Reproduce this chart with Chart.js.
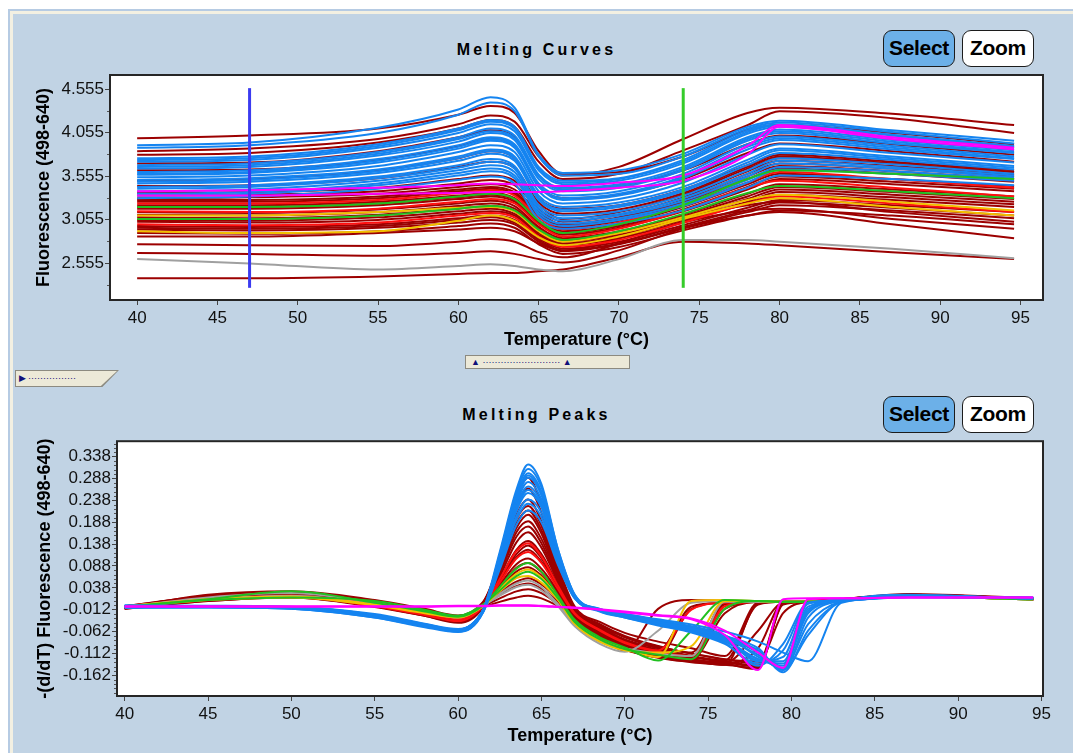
<!DOCTYPE html>
<html>
<head>
<meta charset="utf-8">
<script src="https://cdn.jsdelivr.net/npm/chart.js@4.4.1/dist/chart.umd.min.js"></script>
<style>
  body { margin: 0; width: 1073px; height: 753px; overflow: hidden; position: relative; background: #ffffff; font-family: "Liberation Sans", Arial, sans-serif; }
  #panel { position: absolute; left: 8px; top: 9px; width: 1065px; height: 744px; background: #c1d3e4; border-top: 2px solid #b6cbe3; border-left: 2px solid #b6cbe3; box-sizing: border-box; box-shadow: inset 3px 3px 0 #f3f0e2; }
  canvas { position: absolute; left: 0; }
  .title { position: absolute; left: 0; width: 1073px; text-align: center; font-weight: bold; font-size: 16px; letter-spacing: 3.2px; color: #000; }
  .btn { position: absolute; width: 72px; height: 37px; box-sizing: border-box; border: 1.5px solid #1c1c1c; border-radius: 9px; font-weight: bold; font-size: 21px; line-height: 34px; text-align: center; color: #000; letter-spacing: -0.3px; }
  .sel { background: #6cb0e8; }
  .zoom { background: #ffffff; }
  #slider { position: absolute; left: 465px; top: 355px; width: 165px; height: 14px; box-sizing: border-box; background: #ece9d8; border: 1px solid #8c8a80; font-size: 9px; color: #10107a; line-height: 12px; }
  #tab { position: absolute; left: 15px; top: 370px; width: 104px; height: 17px; background: #8c8a80; clip-path: polygon(0 0, 100% 0, 84% 100%, 0 100%); }
  #tab div { position: absolute; left: 1px; top: 1px; width: 101px; height: 15px; background: #ece9d8; clip-path: polygon(0 0, 100% 0, 84% 100%, 0 100%); font-size: 9px; color: #10107a; line-height: 15px; }
</style>
</head>
<body>
<div id="panel"></div>
<canvas id="curves" width="1073" height="300" style="top:60px"></canvas>
<canvas id="peaks" width="1073" height="323" style="top:430px"></canvas>
<div class="title" style="top:41px">Melting Curves</div>
<div class="title" style="top:406px">Melting Peaks</div>
<div class="btn sel" style="left:883px;top:30px">Select</div>
<div class="btn zoom" style="left:962px;top:30px">Zoom</div>
<div class="btn sel" style="left:883px;top:396px">Select</div>
<div class="btn zoom" style="left:962px;top:396px">Zoom</div>
<div id="slider">&nbsp;&nbsp;▲&nbsp;··························&nbsp;▲</div>
<div id="tab"><div>&nbsp;▶&nbsp;················</div></div>
<script>
// 温度軸（共通目盛り）
const tempTicks = [40, 45, 50, 55, 60, 65, 70, 75, 80, 85, 90, 95];
const meltTicksY = [2.555, 3.055, 3.555, 4.055, 4.555];
const meltMinorY = [2.305, 2.805, 3.305, 3.805, 4.305];
const peakTicksY = [-0.162, -0.112, -0.062, -0.012, 0.038, 0.088, 0.138, 0.188, 0.238, 0.288, 0.338];

// Melting Curves: 読み取り温度点
const meltTemps = [40, 47, 55, 60, 62, 63.5, 65, 66.5, 70, 74, 78, 80, 87, 94.6];

const meltBlue = [
    [3.91, 3.94, 4.11, 4.32, 4.46, 4.34, 3.80, 3.59, 3.62, 3.81, 4.12, 4.19, 4.08, 3.96],
    [3.88, 3.91, 4.05, 4.26, 4.40, 4.30, 3.78, 3.56, 3.58, 3.78, 4.10, 4.17, 4.06, 3.93],
    [3.76, 3.78, 3.92, 4.10, 4.20, 4.12, 3.66, 3.50, 3.53, 3.74, 4.08, 4.15, 4.03, 3.90],
    [3.74, 3.76, 3.90, 4.08, 4.18, 4.10, 3.64, 3.48, 3.52, 3.72, 4.06, 4.14, 4.02, 3.89],
    [3.72, 3.74, 3.88, 4.05, 4.15, 4.07, 3.62, 3.46, 3.50, 3.70, 4.04, 4.12, 4.00, 3.88],
    [3.68, 3.70, 3.83, 4.00, 4.10, 4.02, 3.57, 3.42, 3.46, 3.66, 4.00, 4.09, 3.97, 3.85],
    [3.66, 3.68, 3.81, 3.98, 4.07, 3.99, 3.55, 3.40, 3.44, 3.64, 3.98, 4.07, 3.95, 3.83],
    [3.64, 3.66, 3.79, 3.95, 4.05, 3.97, 3.52, 3.38, 3.42, 3.62, 3.96, 4.05, 3.93, 3.82],
    [3.60, 3.62, 3.75, 3.91, 4.00, 3.92, 3.47, 3.33, 3.38, 3.58, 3.92, 4.01, 3.90, 3.78],
    [3.58, 3.60, 3.73, 3.89, 3.98, 3.90, 3.45, 3.30, 3.35, 3.55, 3.89, 3.99, 3.88, 3.76],
    [3.57, 3.59, 3.71, 3.87, 3.96, 3.88, 3.43, 3.28, 3.33, 3.53, 3.86, 3.97, 3.86, 3.75],
    [3.54, 3.56, 3.67, 3.83, 3.91, 3.83, 3.38, 3.24, 3.29, 3.48, 3.80, 3.92, 3.82, 3.71],
    [3.51, 3.53, 3.63, 3.78, 3.86, 3.78, 3.33, 3.20, 3.25, 3.43, 3.74, 3.87, 3.78, 3.67],
    [3.49, 3.51, 3.61, 3.76, 3.84, 3.76, 3.30, 3.17, 3.22, 3.40, 3.71, 3.85, 3.76, 3.65],
    [3.47, 3.49, 3.59, 3.73, 3.81, 3.73, 3.28, 3.15, 3.20, 3.38, 3.68, 3.82, 3.74, 3.63],
    [3.43, 3.45, 3.55, 3.68, 3.75, 3.67, 3.22, 3.10, 3.15, 3.33, 3.62, 3.76, 3.69, 3.58],
    [3.41, 3.43, 3.53, 3.65, 3.72, 3.64, 3.19, 3.07, 3.12, 3.30, 3.58, 3.73, 3.66, 3.56],
    [3.38, 3.40, 3.50, 3.62, 3.68, 3.60, 3.16, 3.04, 3.10, 3.27, 3.55, 3.70, 3.64, 3.54],
    [3.35, 3.37, 3.47, 3.59, 3.64, 3.56, 3.13, 3.01, 3.07, 3.24, 3.51, 3.66, 3.61, 3.52],
    [3.33, 3.35, 3.45, 3.56, 3.61, 3.53, 3.10, 2.98, 3.05, 3.21, 3.48, 3.63, 3.58, 3.50],
    [3.30, 3.32, 3.41, 3.51, 3.55, 3.47, 3.05, 2.95, 3.01, 3.16, 3.42, 3.56, 3.52, 3.45]
];

const meltDarkRed = [
    [3.99, 4.02, 4.10, 4.26, 4.36, 4.28, 3.84, 3.58, 3.60, 3.78, 4.08, 4.14, 4.05, 3.92],
    [3.84, 3.87, 3.98, 4.15, 4.25, 4.18, 3.78, 3.56, 3.66, 3.98, 4.28, 4.34, 4.27, 4.14],
    [3.80, 3.82, 3.94, 4.10, 4.20, 4.12, 3.72, 3.52, 3.58, 3.85, 4.14, 4.30, 4.22, 4.05],
    [3.70, 3.71, 3.84, 4.00, 4.08, 4.00, 3.56, 3.40, 3.44, 3.62, 3.92, 4.02, 3.92, 3.80],
    [3.62, 3.63, 3.74, 3.90, 3.98, 3.90, 3.44, 3.30, 3.34, 3.52, 3.82, 3.93, 3.84, 3.72],
    [3.50, 3.52, 3.62, 3.76, 3.84, 3.76, 3.30, 3.18, 3.22, 3.40, 3.68, 3.80, 3.72, 3.62],
    [3.44, 3.45, 3.53, 3.66, 3.72, 3.65, 3.25, 3.12, 3.17, 3.36, 3.66, 3.78, 3.70, 3.60],
    [3.36, 3.37, 3.42, 3.52, 3.56, 3.50, 3.22, 3.06, 3.14, 3.34, 3.64, 3.76, 3.70, 3.60],
    [3.33, 3.34, 3.38, 3.47, 3.51, 3.45, 3.18, 3.03, 3.11, 3.31, 3.61, 3.73, 3.67, 3.57],
    [3.30, 3.31, 3.35, 3.43, 3.46, 3.40, 3.14, 3.00, 3.08, 3.28, 3.58, 3.70, 3.64, 3.55],
    [3.28, 3.28, 3.32, 3.40, 3.43, 3.37, 3.12, 2.98, 3.06, 3.26, 3.55, 3.67, 3.61, 3.52],
    [3.26, 3.26, 3.30, 3.38, 3.41, 3.35, 3.10, 2.96, 3.04, 3.24, 3.52, 3.64, 3.58, 3.49],
    [3.22, 3.22, 3.26, 3.33, 3.36, 3.30, 3.05, 2.92, 3.00, 3.20, 3.46, 3.58, 3.52, 3.44],
    [3.20, 3.20, 3.24, 3.31, 3.34, 3.28, 3.03, 2.90, 2.98, 3.17, 3.43, 3.55, 3.49, 3.41],
    [3.18, 3.18, 3.22, 3.29, 3.32, 3.26, 3.01, 2.88, 2.96, 3.15, 3.40, 3.52, 3.46, 3.38],
    [3.14, 3.13, 3.17, 3.24, 3.27, 3.21, 2.97, 2.84, 2.92, 3.11, 3.35, 3.46, 3.40, 3.32],
    [3.11, 3.10, 3.14, 3.21, 3.24, 3.18, 2.95, 2.82, 2.90, 3.09, 3.32, 3.43, 3.37, 3.29],
    [3.08, 3.07, 3.11, 3.18, 3.21, 3.15, 2.92, 2.80, 2.88, 3.07, 3.29, 3.40, 3.34, 3.26],
    [3.05, 3.04, 3.08, 3.15, 3.18, 3.12, 2.90, 2.78, 2.86, 3.05, 3.26, 3.37, 3.31, 3.23],
    [3.03, 3.02, 3.05, 3.12, 3.15, 3.10, 2.88, 2.76, 2.84, 3.03, 3.24, 3.34, 3.28, 3.20],
    [2.98, 2.97, 3.00, 3.07, 3.10, 3.05, 2.84, 2.72, 2.80, 2.99, 3.19, 3.28, 3.22, 3.14],
    [2.96, 2.95, 2.98, 3.05, 3.08, 3.02, 2.82, 2.70, 2.78, 2.97, 3.16, 3.25, 3.19, 3.10],
    [2.94, 2.93, 2.96, 3.02, 3.05, 3.00, 2.80, 2.69, 2.77, 2.96, 3.14, 3.22, 3.16, 3.07],
    [2.90, 2.89, 2.92, 2.98, 3.01, 2.96, 2.77, 2.66, 2.74, 2.93, 3.10, 3.16, 3.10, 3.00],
    [2.86, 2.86, 2.90, 2.94, 2.96, 2.92, 2.78, 2.70, 2.84, 3.08, 3.22, 3.26, 3.14, 3.03],
    [2.77, 2.76, 2.75, 2.80, 2.83, 2.80, 2.68, 2.62, 2.78, 3.02, 3.16, 3.18, 3.06, 2.95],
    [2.67, 2.66, 2.64, 2.67, 2.69, 2.66, 2.60, 2.56, 2.70, 2.95, 3.10, 3.14, 3.00, 2.84],
    [2.38, 2.38, 2.40, 2.43, 2.44, 2.44, 2.46, 2.48, 2.62, 2.80, 2.78, 2.76, 2.68, 2.60]
];

const meltRed = [
    [3.24, 3.24, 3.28, 3.36, 3.39, 3.33, 3.08, 2.94, 3.02, 3.22, 3.48, 3.60, 3.52, 3.42],
    [3.15, 3.14, 3.18, 3.26, 3.29, 3.24, 3.00, 2.86, 2.95, 3.16, 3.42, 3.50, 3.42, 3.32],
    [3.00, 2.99, 3.02, 3.10, 3.13, 3.08, 2.86, 2.74, 2.82, 3.02, 3.24, 3.32, 3.24, 3.14]
];
const meltYellow = [
    [3.10, 3.10, 3.14, 3.19, 3.20, 3.15, 2.92, 2.80, 2.90, 3.08, 3.28, 3.34, 3.26, 3.16],
    [2.92, 2.90, 2.92, 3.04, 3.10, 3.04, 2.85, 2.76, 2.86, 3.06, 3.24, 3.30, 3.20, 3.10]
];
const meltGreen = [
    [3.20, 3.20, 3.24, 3.32, 3.35, 3.29, 3.04, 2.90, 3.00, 3.22, 3.52, 3.62, 3.58, 3.52],
    [3.06, 3.06, 3.10, 3.18, 3.21, 3.16, 2.94, 2.82, 2.92, 3.12, 3.36, 3.44, 3.38, 3.30]
];
const meltGray = [
    [2.60, 2.55, 2.48, 2.52, 2.54, 2.52, 2.48, 2.46, 2.60, 2.82, 2.82, 2.80, 2.72, 2.61]
];
const meltMagenta = [
    [3.38, 3.39, 3.42, 3.45, 3.47, 3.46, 3.45, 3.44, 3.48, 3.56, 3.90, 4.14, 4.00, 3.88],
    [3.33, 3.33, 3.35, 3.36, 3.37, 3.37, 3.37, 3.38, 3.42, 3.50, 3.80, 4.12, 3.98, 3.86]
];

// カーソル（縦線）
const cursorTemps = [47, 74];
const cursorRange = [2.27, 4.565];

// Melting Peaks: 読み取り温度点
const peakTemps = [40, 45, 50, 55, 58, 60, 61.5, 62.5, 63.5, 64.2, 65, 66, 67, 68.5, 70, 72, 74, 76, 78, 79.5, 81, 83, 87, 94.5];

const peakBlue = [
    [-0.004, -0.004, -0.006, -0.024, -0.046, -0.060, -0.012, 0.120, 0.262, 0.320, 0.275, 0.125, 0.022, -0.012, -0.025, -0.040, -0.055, -0.075, -0.110, -0.150, -0.030, 0.008, 0.018, 0.015],
    [-0.006, -0.006, -0.008, -0.028, -0.050, -0.062, -0.015, 0.115, 0.255, 0.310, 0.268, 0.125, 0.022, -0.010, -0.022, -0.036, -0.050, -0.070, -0.120, -0.145, -0.010, 0.008, 0.020, 0.014],
    [-0.002, -0.003, -0.005, -0.022, -0.044, -0.056, -0.012, 0.112, 0.248, 0.300, 0.258, 0.118, 0.018, -0.014, -0.028, -0.044, -0.058, -0.080, -0.130, -0.120, 0.002, 0.010, 0.016, 0.016],
    [-0.005, -0.005, -0.008, -0.027, -0.049, -0.061, -0.016, 0.108, 0.244, 0.295, 0.254, 0.120, 0.019, -0.013, -0.027, -0.042, -0.057, -0.080, -0.125, -0.135, -0.015, 0.008, 0.019, 0.015],
    [-0.008, -0.007, -0.010, -0.030, -0.052, -0.063, -0.018, 0.105, 0.238, 0.290, 0.250, 0.118, 0.020, -0.012, -0.024, -0.038, -0.052, -0.072, -0.100, -0.155, -0.060, 0.006, 0.022, 0.013],
    [-0.004, -0.005, -0.007, -0.026, -0.048, -0.058, -0.014, 0.102, 0.232, 0.280, 0.240, 0.112, 0.016, -0.016, -0.030, -0.046, -0.062, -0.088, -0.140, -0.090, 0.004, 0.009, 0.018, 0.015],
    [-0.006, -0.006, -0.009, -0.028, -0.050, -0.060, -0.016, 0.098, 0.224, 0.270, 0.232, 0.108, 0.018, -0.012, -0.026, -0.042, -0.056, -0.078, -0.115, -0.148, -0.045, 0.007, 0.020, 0.014],
    [-0.004, -0.005, -0.007, -0.025, -0.047, -0.059, -0.014, 0.095, 0.220, 0.262, 0.226, 0.106, 0.017, -0.013, -0.027, -0.043, -0.058, -0.082, -0.128, -0.130, -0.005, 0.008, 0.018, 0.015],
    [-0.003, -0.004, -0.006, -0.024, -0.045, -0.057, -0.013, 0.094, 0.214, 0.255, 0.222, 0.104, 0.017, -0.010, -0.022, -0.034, -0.046, -0.062, -0.085, -0.110, -0.130, 0.004, 0.017, 0.016],
    [-0.007, -0.007, -0.010, -0.030, -0.050, -0.060, -0.018, 0.088, 0.202, 0.240, 0.210, 0.100, 0.016, -0.014, -0.028, -0.044, -0.060, -0.085, -0.125, -0.140, -0.020, 0.008, 0.019, 0.014],
    [-0.005, -0.005, -0.008, -0.026, -0.047, -0.058, -0.015, 0.086, 0.194, 0.230, 0.200, 0.094, 0.014, -0.015, -0.030, -0.048, -0.064, -0.090, -0.135, -0.105, 0.002, 0.009, 0.017, 0.015],
    [-0.004, -0.004, -0.007, -0.025, -0.046, -0.058, -0.014, 0.080, 0.182, 0.215, 0.188, 0.090, 0.014, -0.013, -0.026, -0.040, -0.054, -0.074, -0.105, -0.150, -0.070, 0.006, 0.018, 0.015]
];

const peakDarkRed = [
    [-0.008, 0.012, 0.020, 0.002, -0.020, -0.035, 0.002, 0.100, 0.245, 0.290, 0.230, 0.090, -0.005, -0.040, -0.065, -0.085, -0.100, -0.118, 0.005, 0.008, 0.006, 0.010, 0.020, 0.012],
    [-0.006, 0.018, 0.026, 0.006, -0.015, -0.030, 0.004, 0.098, 0.228, 0.265, 0.210, 0.082, -0.008, -0.045, -0.072, -0.095, -0.110, 0.004, 0.006, 0.008, 0.007, 0.012, 0.022, 0.013],
    [-0.010, 0.008, 0.016, -0.004, -0.026, -0.042, -0.006, 0.085, 0.205, 0.240, 0.190, 0.075, -0.010, -0.048, -0.075, -0.098, -0.112, -0.125, -0.135, 0.004, 0.008, 0.010, 0.018, 0.012],
    [-0.006, 0.016, 0.024, 0.004, -0.018, -0.034, 0.002, 0.090, 0.195, 0.225, 0.180, 0.072, -0.010, -0.046, -0.074, -0.096, -0.112, -0.126, -0.130, -0.020, 0.006, 0.010, 0.020, 0.012],
    [-0.008, 0.022, 0.030, 0.010, -0.010, -0.025, 0.006, 0.080, 0.185, 0.215, 0.170, 0.066, -0.012, -0.050, -0.080, -0.100, -0.118, -0.128, 0.000, 0.006, 0.006, 0.012, 0.024, 0.014],
    [-0.007, 0.015, 0.024, 0.003, -0.018, -0.034, 0.000, 0.082, 0.175, 0.205, 0.162, 0.062, -0.014, -0.052, -0.082, -0.104, -0.120, -0.132, -0.142, 0.000, 0.006, 0.010, 0.020, 0.012],
    [-0.006, 0.014, 0.022, 0.000, -0.020, -0.036, -0.002, 0.072, 0.165, 0.190, 0.150, 0.060, -0.015, -0.055, -0.085, -0.105, -0.005, 0.004, 0.006, 0.008, 0.008, 0.010, 0.020, 0.012],
    [-0.005, 0.013, 0.021, 0.001, -0.019, -0.035, -0.002, 0.070, 0.155, 0.178, 0.140, 0.055, -0.016, -0.056, -0.086, -0.106, -0.118, -0.010, 0.006, 0.008, 0.008, 0.010, 0.020, 0.012],
    [-0.008, 0.010, 0.018, -0.004, -0.024, -0.040, -0.004, 0.064, 0.142, 0.165, 0.130, 0.052, -0.018, -0.058, -0.088, -0.108, -0.120, -0.130, -0.140, 0.002, 0.006, 0.012, 0.022, 0.013],
    [-0.004, 0.020, 0.028, 0.008, -0.012, -0.028, 0.002, 0.058, 0.125, 0.145, 0.115, 0.045, -0.020, -0.060, -0.090, -0.112, -0.122, 0.000, 0.006, 0.006, 0.007, 0.010, 0.020, 0.012],
    [-0.009, 0.011, 0.019, -0.003, -0.023, -0.039, -0.005, 0.054, 0.115, 0.135, 0.106, 0.040, -0.021, -0.061, -0.093, -0.113, -0.126, -0.134, -0.060, 0.004, 0.006, 0.010, 0.020, 0.012],
    [-0.010, 0.012, 0.020, -0.002, -0.022, -0.038, -0.004, 0.050, 0.108, 0.125, 0.098, 0.038, -0.022, -0.062, -0.095, -0.115, -0.128, -0.138, 0.002, 0.006, 0.006, 0.012, 0.022, 0.014],
    [-0.006, 0.016, 0.024, 0.004, -0.016, -0.032, 0.000, 0.045, 0.092, 0.105, 0.082, 0.030, -0.025, -0.065, -0.098, -0.118, -0.010, 0.004, 0.006, 0.008, 0.008, 0.010, 0.020, 0.012],
    [-0.006, 0.017, 0.025, 0.005, -0.015, -0.031, 0.001, 0.040, 0.084, 0.095, 0.074, 0.026, -0.027, -0.068, -0.099, -0.119, -0.125, -0.020, 0.006, 0.006, 0.007, 0.010, 0.020, 0.012],
    [-0.008, 0.008, 0.016, -0.006, -0.026, -0.040, -0.006, 0.035, 0.075, 0.085, 0.066, 0.022, -0.030, -0.070, -0.100, -0.120, -0.132, -0.138, -0.145, 0.004, 0.006, 0.010, 0.018, 0.012],
    [-0.004, 0.018, 0.026, 0.006, -0.014, -0.030, 0.000, 0.028, 0.052, 0.060, 0.046, 0.012, -0.030, -0.072, -0.102, -0.122, -0.130, 0.004, 0.006, 0.006, 0.007, 0.012, 0.022, 0.013],
    [-0.007, 0.012, 0.020, -0.001, -0.021, -0.034, -0.004, 0.022, 0.042, 0.048, 0.036, 0.006, -0.033, -0.073, -0.103, -0.121, -0.130, -0.137, -0.100, 0.004, 0.006, 0.010, 0.020, 0.012],
    [-0.006, 0.014, 0.022, 0.002, -0.018, -0.032, -0.004, 0.014, 0.030, 0.035, 0.026, 0.000, -0.036, -0.075, -0.105, -0.010, 0.010, 0.008, 0.006, 0.006, 0.006, 0.010, 0.020, 0.012],
    [-0.008, 0.010, 0.018, -0.002, -0.020, -0.030, -0.006, 0.006, 0.016, 0.020, 0.014, -0.004, -0.030, -0.060, -0.090, -0.110, -0.125, -0.135, -0.148, 0.002, 0.006, 0.010, 0.020, 0.012]
];

const peakRed = [
    [-0.006, 0.012, 0.020, 0.000, -0.020, -0.034, -0.002, 0.050, 0.105, 0.120, 0.095, 0.035, -0.022, -0.060, -0.088, -0.108, -0.118, -0.004, 0.006, 0.008, 0.008, 0.010, 0.020, 0.012],
    [-0.008, 0.010, 0.018, -0.004, -0.024, -0.038, -0.004, 0.058, 0.122, 0.140, 0.110, 0.042, -0.020, -0.058, -0.086, -0.105, -0.012, 0.004, 0.006, 0.008, 0.008, 0.010, 0.020, 0.012]
];
const peakYellow = [
    [-0.006, 0.010, 0.016, -0.002, -0.020, -0.030, -0.004, 0.035, 0.070, 0.080, 0.062, 0.015, -0.040, -0.080, -0.100, -0.120, 0.008, 0.010, 0.008, 0.006, 0.006, 0.010, 0.018, 0.012],
    [-0.004, 0.012, 0.018, 0.000, -0.018, -0.028, -0.002, 0.030, 0.060, 0.065, 0.050, 0.010, -0.045, -0.085, -0.105, -0.110, -0.095, 0.008, 0.008, 0.006, 0.006, 0.010, 0.018, 0.012]
];
const peakGreen = [
    [-0.006, 0.012, 0.030, 0.004, -0.016, -0.028, -0.002, 0.040, 0.082, 0.095, 0.075, 0.020, -0.035, -0.075, -0.098, -0.128, -0.060, 0.010, 0.008, 0.006, 0.006, 0.010, 0.018, 0.012],
    [-0.005, 0.010, 0.016, 0.008, -0.012, -0.026, 0.000, 0.032, 0.065, 0.075, 0.058, 0.014, -0.040, -0.080, -0.102, -0.115, -0.125, -0.010, 0.008, 0.006, 0.006, 0.010, 0.018, 0.012]
];
const peakGray = [
    [-0.006, 0.016, 0.026, 0.004, -0.016, -0.028, -0.002, 0.020, 0.040, 0.045, 0.032, -0.004, -0.050, -0.090, -0.108, -0.060, 0.004, 0.008, 0.006, 0.006, 0.006, 0.010, 0.018, 0.012],
    [-0.004, 0.012, 0.020, 0.000, -0.018, -0.030, -0.004, 0.024, 0.048, 0.055, 0.040, 0.000, -0.045, -0.085, -0.100, -0.112, -0.118, 0.006, 0.006, 0.006, 0.006, 0.010, 0.018, 0.012]
];
const peakMagenta = [
    [-0.005, -0.005, -0.005, -0.005, -0.005, -0.004, -0.004, -0.003, -0.003, -0.003, -0.004, -0.006, -0.008, -0.012, -0.018, -0.026, -0.034, -0.070, -0.150, 0.012, 0.014, 0.014, 0.016, 0.016],
    [-0.004, -0.004, -0.004, -0.004, -0.004, -0.003, -0.003, -0.002, -0.002, -0.002, -0.003, -0.005, -0.007, -0.011, -0.016, -0.024, -0.032, -0.060, -0.110, -0.145, 0.012, 0.014, 0.016, 0.016]
];

const COLORS = {
    blue: '#1584f0',
    darkRed: '#9c0000',
    red: '#ff1010',
    yellow: '#f2c000',
    green: '#20c020',
    gray: '#a0a0a0',
    magenta: '#ff00ff'
};

const FONT = "'Liberation Sans', Arial, sans-serif";

// 曲線データセットを作る（order が小さいほど上に描かれる）
function curveSets(temps, rows, color, order) {
    return rows.map(vals => ({
        data: temps.map((t, i) => ({ x: t, y: vals[i] })),
        borderColor: color,
        borderWidth: 2,
        pointRadius: 0,
        cubicInterpolationMode: 'monotone',
        order: order
    }));
}

// プロット枠・白背景・副目盛り
const framePlugin = {
    id: 'frame',
    beforeDraw(chart) {
        const { ctx, chartArea: a } = chart;
        ctx.save();
        ctx.fillStyle = '#ffffff';
        ctx.fillRect(a.left, a.top, a.right - a.left, a.bottom - a.top);
        ctx.restore();
    },
    afterDraw(chart, args, opts) {
        const { ctx, chartArea: a } = chart;
        const ys = chart.scales.y;
        ctx.save();
        ctx.strokeStyle = '#555';
        ctx.lineWidth = 1;
        (opts.minor || []).forEach(v => {
            const py = Math.round(ys.getPixelForValue(v)) + 0.5;
            if (py < a.top || py > a.bottom) return;
            ctx.beginPath();
            ctx.moveTo(a.left - 3, py);
            ctx.lineTo(a.left, py);
            ctx.stroke();
        });
        ctx.strokeStyle = '#262626';
        ctx.lineWidth = 2;
        ctx.strokeRect(a.left, a.top, a.right - a.left, a.bottom - a.top);
        ctx.restore();
    }
};

function tempAxis(min, max, height, titlePad) {
    return {
        type: 'linear',
        min: min,
        max: max,
        afterBuildTicks: s => { s.ticks = tempTicks.map(v => ({ value: v })); },
        afterFit: s => { s.height = height; },
        grid: { drawOnChartArea: false, tickLength: 5, color: '#444' },
        border: { display: false },
        ticks: {
            color: '#111', padding: 3, maxRotation: 0, autoSkip: false,
            font: { family: FONT, size: 17 },
            callback: v => String(v)
        },
        title: {
            display: true, text: 'Temperature (°C)', color: '#000',
            font: { family: FONT, size: 18, weight: 'bold' },
            padding: { top: 0, bottom: titlePad }
        }
    };
}

function valueAxis(min, max, ticks, width, text, titlePad) {
    return {
        type: 'linear',
        min: min,
        max: max,
        afterBuildTicks: s => { s.ticks = ticks.map(v => ({ value: v })); },
        afterFit: s => { s.width = width; },
        grid: { drawOnChartArea: false, tickLength: 5, color: '#444' },
        border: { display: false },
        ticks: {
            color: '#111', padding: 1, autoSkip: false,
            font: { family: FONT, size: 17 },
            callback: v => v.toFixed(3)
        },
        title: {
            display: true, text: text, color: '#000',
            font: { family: FONT, size: 18, weight: 'bold' },
            padding: { top: titlePad, bottom: 0 }
        }
    };
}

// --- Melting Curves ---
const curveDatasets = [
    ...cursorTemps.map((t, i) => ({
        data: cursorRange.map(v => ({ x: t, y: v })),
        borderColor: i === 0 ? '#3b3bf0' : '#35cc2a',
        borderWidth: 3,
        pointRadius: 0,
        order: 0
    })),
    ...curveSets(meltTemps, meltMagenta, COLORS.magenta, 1),
    ...curveSets(meltTemps, meltGreen, COLORS.green, 2),
    ...curveSets(meltTemps, meltYellow, COLORS.yellow, 2),
    ...curveSets(meltTemps, meltBlue, COLORS.blue, 3),
    ...curveSets(meltTemps, meltRed, COLORS.red, 4),
    ...curveSets(meltTemps, meltGray, COLORS.gray, 4),
    ...curveSets(meltTemps, meltDarkRed, COLORS.darkRed, 5)
];

new Chart(document.getElementById('curves'), {
    type: 'line',
    data: { datasets: curveDatasets },
    options: {
        responsive: false,
        animation: false,
        layout: { padding: { left: 0, right: 30, top: 15, bottom: 0 } },
        plugins: {
            legend: { display: false },
            tooltip: { enabled: false },
            frame: { minor: meltMinorY }
        },
        scales: {
            x: tempAxis(38.31, 96.4, 60, 9),
            y: valueAxis(2.130, 4.716, meltTicksY, 110, 'Fluorescence (498-640)', 33)
        }
    },
    plugins: [framePlugin]
});

// --- Melting Peaks ---
const peakMinorY = [];
for (let k = -20; k <= 37; k++) {
    const v = k / 100 - 0.002;
    if (!peakTicksY.some(t => Math.abs(t - v) < 1e-6)) peakMinorY.push(v);
}

const peakDatasets = [
    ...curveSets(peakTemps, peakMagenta, COLORS.magenta, 0),
    ...curveSets(peakTemps, peakBlue, COLORS.blue, 1),
    ...curveSets(peakTemps, peakGreen, COLORS.green, 2),
    ...curveSets(peakTemps, peakYellow, COLORS.yellow, 2),
    ...curveSets(peakTemps, peakGray, COLORS.gray, 3),
    ...curveSets(peakTemps, peakRed, COLORS.red, 3),
    ...curveSets(peakTemps, peakDarkRed, COLORS.darkRed, 4)
];

new Chart(document.getElementById('peaks'), {
    type: 'line',
    data: { datasets: peakDatasets },
    options: {
        responsive: false,
        animation: false,
        layout: { padding: { left: 0, right: 30, top: 10, bottom: 0 } },
        plugins: {
            legend: { display: false },
            tooltip: { enabled: false },
            frame: { minor: peakMinorY }
        },
        scales: {
            x: tempAxis(39.54, 95.09, 57, 6),
            y: valueAxis(-0.2093, 0.3733, peakTicksY, 117, '-(d/dT) Fluorescence (498-640)', 34)
        }
    },
    plugins: [framePlugin]
});
</script>
</body>
</html>
